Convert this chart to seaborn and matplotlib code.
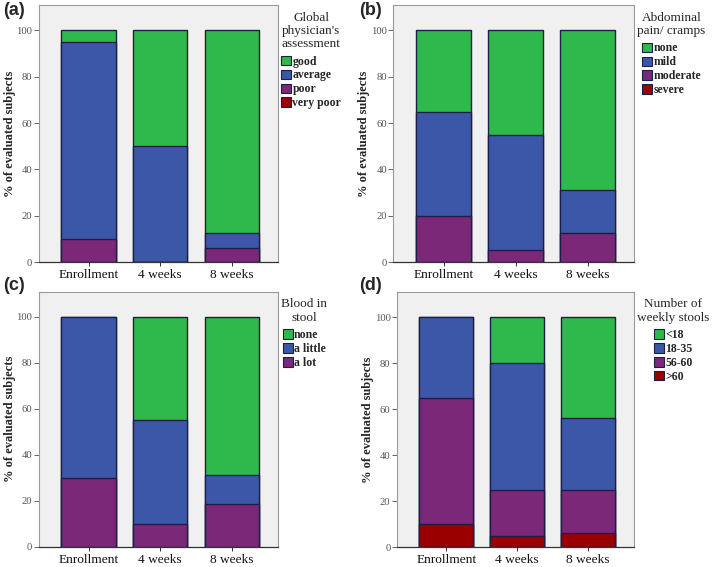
import matplotlib
matplotlib.use("Agg")
import matplotlib.pyplot as plt
from matplotlib.patches import Patch
import seaborn as sns
import numpy as np
import pandas as pd

sns.set_theme(style="white")
plt.rcParams['font.family'] = ['Liberation Serif', 'DejaVu Serif']

timepoints = ["Enrollment", "4 weeks", "8 weeks"]

# Panel (a): Global physician's assessment (bottom -> top)
a_title = "Global\nphysician's\nassessment"
a_cats = ["very poor", "poor", "average", "good"]
a_very_poor = [0, 0, 0]
a_poor = [10, 0, 6.25]
a_average = [85, 50, 6.25]
a_good = [5, 50, 87.5]

# Panel (b): Abdominal pain/ cramps
b_title = "Abdominal\npain/ cramps"
b_cats = ["severe", "moderate", "mild", "none"]
b_severe = [0, 0, 0]
b_moderate = [20, 5, 12.5]
b_mild = [45, 50, 18.75]
b_none = [35, 45, 68.75]

# Panel (c): Blood in stool
c_title = "Blood in\nstool"
c_cats = ["a lot", "a little", "none"]
c_a_lot = [30, 10, 18.75]
c_a_little = [70, 45, 12.5]
c_none = [0, 45, 68.75]

# Panel (d): Number of weekly stools
d_title = "Number of\nweekly stools"
d_cats = [">60", "56-60", "18-35", "<18"]
d_gt60 = [10, 5, 6.25]
d_56_60 = [55, 20, 18.75]
d_18_35 = [35, 55, 31.25]
d_lt18 = [0, 20, 43.75]

yticks = [0, 20, 40, 60, 80, 100]

GREEN = "#2fb84b"
BLUE = "#3d57a8"
PURPLE = "#7b2879"
RED = "#9b0000"
EDGE = "#1c1f45"

panels = [
    ("(a)", a_title, a_cats, [a_very_poor, a_poor, a_average, a_good], [RED, PURPLE, BLUE, GREEN]),
    ("(b)", b_title, b_cats, [b_severe, b_moderate, b_mild, b_none], [RED, PURPLE, BLUE, GREEN]),
    ("(c)", c_title, c_cats, [c_a_lot, c_a_little, c_none], [PURPLE, BLUE, GREEN]),
    ("(d)", d_title, d_cats, [d_gt60, d_56_60, d_18_35, d_lt18], [RED, PURPLE, BLUE, GREEN]),
]

W, H = 712, 567
fig = plt.figure(figsize=(W / 100, H / 100), dpi=100)

# axes rectangles in pixels: left, top, right, bottom
rects = [
    (38.5, 5, 278.3, 262),
    (393.3, 5, 634.3, 262),
    (38.5, 291.7, 278.3, 546.7),
    (396.7, 291.7, 634.3, 547.3),
]
label_pos = [(3, 2), (359, 2), (3, 277), (359, 277)]

for (lab, title, cats, series, colors), (l, t, r, b), (lx, ly) in zip(panels, rects, label_pos):
    ax = fig.add_axes([l / W, 1 - b / H, (r - l) / W, (b - t) / H])
    ax.set_facecolor("#f0f0f0")
    cum = np.cumsum(np.array(series, dtype=float), axis=0)
    # draw from top of stack down so lower segments overlay
    for k in range(len(cats) - 1, -1, -1):
        if np.all(cum[k] == 0):
            continue
        df = pd.DataFrame({"time": timepoints, "val": cum[k]})
        sns.barplot(data=df, x="time", y="val", order=timepoints, color=colors[k],
                    saturation=1, width=0.76, edgecolor=EDGE, linewidth=1.0, ax=ax)
    ax.set_xlim(-0.7, 2.65)
    ax.set_ylim(0, 111)
    ax.set_yticks(yticks)
    ax.set_yticklabels([str(v) for v in yticks], fontsize=7.7, color="#555555")
    ax.set_xticks(range(len(timepoints)))
    ax.set_xticklabels(timepoints, fontsize=9.6, color="#111111")
    ax.set_xlabel("")
    ax.set_ylabel("% of evaluated subjects", fontsize=9, fontweight="bold", labelpad=0.5)
    ax.tick_params(axis="y", direction="out", length=3.5, width=0.7, color="#666666", pad=1, left=True)
    ax.tick_params(axis="x", direction="out", length=3, width=0.7, color="#333333", pad=2, bottom=True)
    for s in ["top", "right", "left"]:
        ax.spines[s].set_color("#9a9a9a")
        ax.spines[s].set_linewidth(0.8)
    ax.spines["bottom"].set_color("#333333")
    ax.spines["bottom"].set_linewidth(0.9)

    handles = [Patch(facecolor=colors[k], edgecolor=EDGE, linewidth=0.8, label=cats[k])
               for k in range(len(cats) - 1, -1, -1)]
    leg = ax.legend(handles=handles, title=title, loc="upper left",
                    bbox_to_anchor=(1.0, 0.985), frameon=False,
                    prop={"family": "Liberation Serif", "size": 8.5, "weight": "bold"},
                    title_fontproperties={"family": "Liberation Serif", "size": 9.5},
                    handlelength=0.85, handleheight=0.85, handletextpad=0.1,
                    labelspacing=0.16, borderpad=0.0, borderaxespad=0.25)
    leg._legend_box.align = "center"
    leg._legend_box.sep = 4
    leg.get_title().set_multialignment("center")
    leg.get_title().set_linespacing(1.12)

    fig.text(lx / W, 1 - ly / H, lab, fontsize=13, fontweight="bold",
             family="Liberation Sans", ha="left", va="top")

fig.savefig("out.png", dpi=100)
